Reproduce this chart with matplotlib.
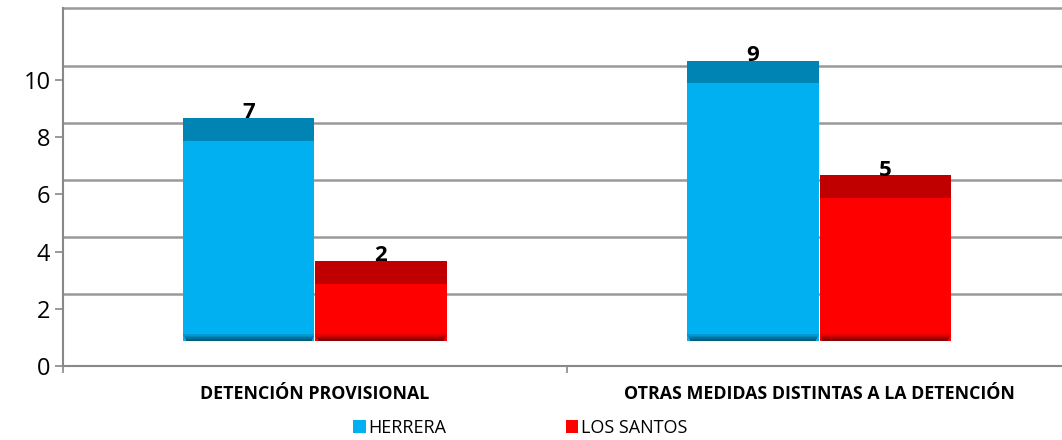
import matplotlib.pyplot as plt
import numpy as np

# Data
categories = ['DETENCIÓN PROVISIONAL', 'OTRAS MEDIDAS DISTINTAS A LA DETENCIÓN']
series = ['HERRERA', 'LOS SANTOS']
herrera = [7, 9]
los_santos = [2, 5]
y_ticks = [0, 2, 4, 6, 8, 10]

# 3D look (Excel style): front face, darker top face, shaded base
front_colors = ['#00B0F0', '#FF0000']
top_colors = ['#0084B4', '#C00000']
base_shades = [['#0099D2', '#0086B8', '#00729C', '#005E80'],
               ['#E60000', '#C80000', '#A80000', '#880000']]
floor = 0.88      # bars sit a bit above the axis (perspective)
depth = 0.8       # height of top face
wall = 0.5        # gridlines on the back wall are shifted up

plt.rcParams['font.family'] = ['Open Sans', 'DejaVu Sans']

fig = plt.figure(figsize=(10.62, 4.4), dpi=100)
ax = fig.add_axes([0.0593, 0.1682, 0.9492, 0.8125])

x = np.arange(len(categories))
width = 0.26
offsets = [-0.131, 0.131]

for i, vals in enumerate([herrera, los_santos]):
    xpos = x + offsets[i]
    vals = np.array(vals)
    ax.bar(xpos, vals, width, bottom=floor, color=front_colors[i],
           label=series[i], zorder=3, linewidth=0)
    ax.bar(xpos, depth, width, bottom=floor + vals, color=top_colors[i],
           zorder=3, linewidth=0)
    # shading at the bottom of the front face (darker towards the base)
    for k, shade in enumerate(base_shades[i]):
        w = width * (1 - 0.015 * k)
        ax.bar(xpos, 0.06, w, bottom=floor + 0.24 - 0.06 * (k + 1),
               color=shade, zorder=4, linewidth=0)
    for xp, v in zip(xpos, vals):
        ax.text(xp, v + floor + 0.97, str(v), ha='center', va='center',
                fontsize=16, fontweight='bold', color='black', zorder=5)

# back wall gridlines
for t in y_ticks[1:] + [12]:
    ax.axhline(t + wall, color='#999999', linewidth=1.8, zorder=1, clip_on=False)

ax.set_xlim(-0.5, 1.5)
ax.set_ylim(0, 12.5)

ax.set_yticks(y_ticks)
ax.set_yticklabels([str(t) for t in y_ticks], fontsize=17)
ax.tick_params(axis='y', length=6, width=1.2, color='#888888', pad=3)

ax.set_xticks(x)
ax.set_xticklabels(categories, fontsize=12.8, fontweight='bold')
ax.set_xticks([-0.5, 0.5, 1.5], minor=True)
ax.tick_params(axis='x', which='major', length=0, pad=14)
ax.tick_params(axis='x', which='minor', length=5, width=1.2, color='#888888')

for side in ['top', 'right']:
    ax.spines[side].set_visible(False)
for side in ['left', 'bottom']:
    ax.spines[side].set_color('#888888')
    ax.spines[side].set_linewidth(1.5)

handles, labels = ax.get_legend_handles_labels()
fig.legend(handles, labels, loc='center', bbox_to_anchor=(0.49, 0.027), ncol=2,
           frameon=False, fontsize=13, handlelength=0.7, handleheight=0.7,
           handletextpad=0.15, columnspacing=6.6)

fig.savefig('out.png', dpi=100)
